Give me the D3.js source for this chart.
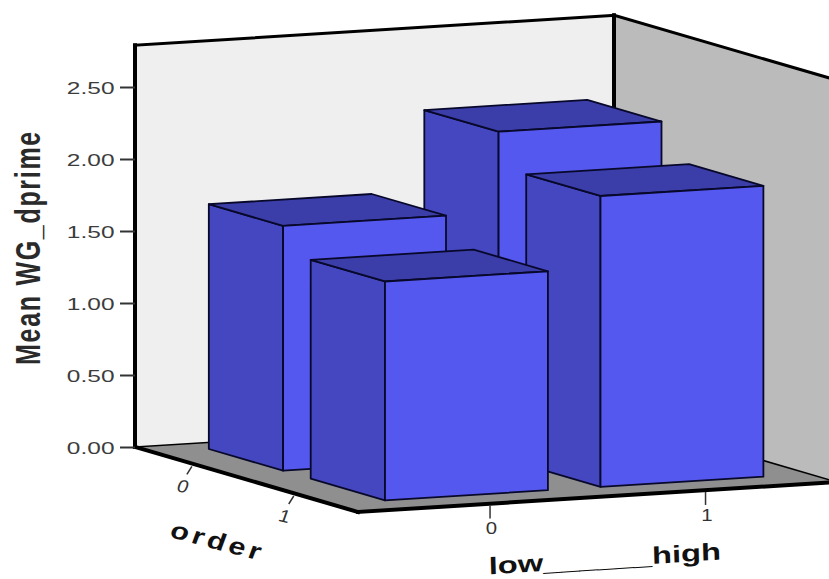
<!DOCTYPE html>
<html>
<head>
<meta charset="utf-8">
<script src="https://cdn.jsdelivr.net/npm/d3@7/dist/d3.min.js"></script>
<style>
html,body{margin:0;padding:0;background:#fff;overflow:hidden}
text{font-family:"Liberation Sans",Arial,sans-serif}
</style>
</head>
<body>
<svg id="chart" width="829" height="579"></svg>
<script>
// Categories and mean values of the 3-D bar chart
const levelCategories = [0, 1];
const orderCategories = [0, 1];
const order0Means = [1.70, 2.26];
const order1Means = [1.52, 2.02];
const valueTicks = [0, 0.5, 1, 1.5, 2, 2.5];
const valueTitle = "Mean WG_dprime";
const orderTitle = "order";
const levelTitle = "low______high";

// Oblique projection of the plot box: width, depth and height axes
const origin = [135, 447];
const widthVec = [479, -30];
const depthVec = [223, 65];
const boxTop = 2.79;

const yScale = d3.scaleLinear().domain([0, 2.5]).range([0, -360]);
const xBand = d3.scaleBand().domain(levelCategories).range([0.115, 0.905]).paddingInner(0.244);
const zBand = d3.scaleBand().domain(orderCategories).range([0.084, 0.874]).paddingInner(0.271);

function project(x, z, v) {
  return [
    origin[0] + x * widthVec[0] + z * depthVec[0],
    origin[1] + x * widthVec[1] + z * depthVec[1] + yScale(v)
  ];
}
const poly = pts => "M" + pts.map(p => p.join(",")).join("L") + "Z";

const svg = d3.select("#chart");

// Box walls and floor
const walls = svg.append("g");
walls.append("path").attr("d", poly([project(0,0,0), project(1,0,0), project(1,0,boxTop), project(0,0,boxTop)])).attr("fill", "#efefef");
walls.append("path").attr("d", poly([project(1,0,0), project(1,1,0), project(1,1,boxTop), project(1,0,boxTop)])).attr("fill", "#bbbbbb");
walls.append("path").attr("d", poly([project(0,0,0), project(1,0,0), project(1,1,0), project(0,1,0)])).attr("fill", "#8f8f8f");

const edge = (a, b, w) => walls.append("line")
  .attr("x1", a[0]).attr("y1", a[1]).attr("x2", b[0]).attr("y2", b[1])
  .attr("stroke", "#000").attr("stroke-width", w).attr("stroke-linecap", "square");
edge(project(0,0,0), project(1,0,0), 1.5);
edge(project(1,0,0), project(1,1,0), 1.5);
edge(project(0,0,0), project(0,0,boxTop), 4);
edge(project(0,0,boxTop), project(1,0,boxTop), 3);
edge(project(1,0,0), project(1,0,boxTop), 4);
edge(project(1,0,boxTop), project(1,1,boxTop), 3);
edge(project(0,0,0), project(0,1,0), 4);
edge(project(0,1,0), project(1,1,0), 4);

// Bars, painted from the back row forward and right to left inside a row
const rows = [
  { order: 0, means: order0Means },
  { order: 1, means: order1Means }
];
const bars = rows.flatMap(r => levelCategories.map((lvl, i) => ({ order: r.order, level: lvl, value: r.means[i] })).reverse());

const barG = svg.append("g").selectAll("g").data(bars).join("g")
  .attr("stroke", "#08082a").attr("stroke-width", 1.8).attr("stroke-linejoin", "round");

function corners(d) {
  const x0 = xBand(d.level), x1 = x0 + xBand.bandwidth();
  const z0 = zBand(d.order), z1 = z0 + zBand.bandwidth();
  return { x0, x1, z0, z1, v: d.value };
}
barG.append("path").attr("fill", "#4447c0").attr("d", d => {
  const c = corners(d);
  return poly([project(c.x0,c.z0,0), project(c.x0,c.z1,0), project(c.x0,c.z1,c.v), project(c.x0,c.z0,c.v)]);
});
barG.append("path").attr("fill", "#3b3da8").attr("d", d => {
  const c = corners(d);
  return poly([project(c.x0,c.z0,c.v), project(c.x1,c.z0,c.v), project(c.x1,c.z1,c.v), project(c.x0,c.z1,c.v)]);
});
barG.append("path").attr("fill", "#5558ee").attr("d", d => {
  const c = corners(d);
  return poly([project(c.x0,c.z1,0), project(c.x1,c.z1,0), project(c.x1,c.z1,c.v), project(c.x0,c.z1,c.v)]);
});

// Value axis on the left edge of the back wall
const yAxis = svg.append("g")
  .attr("transform", `translate(${origin[0]},${origin[1]})`)
  .call(d3.axisLeft(yScale).tickValues(valueTicks).tickFormat(d3.format(".2f")).tickSize(15).tickPadding(4));
yAxis.select(".domain").remove();
yAxis.selectAll(".tick line").attr("stroke", "#333").attr("stroke-width", 2);
yAxis.selectAll(".tick text")
  .attr("fill", "#3c3c3c").attr("font-size", 17).attr("text-anchor", "end")
  .attr("dy", "0.36em").attr("x", 0)
  .attr("transform", "translate(-20.5,0) scale(1.44,1)");

svg.append("text")
  .attr("transform", "translate(40,247.5) rotate(-90) scale(1,1.4)")
  .attr("text-anchor", "middle").attr("font-size", 25).attr("font-weight", "bold")
  .attr("letter-spacing", 1.7).attr("fill", "#2a2a2a")
  .text(valueTitle);

// Width axis ticks along the front edge of the floor
const xTicks = svg.append("g").selectAll("g").data(levelCategories).join("g")
  .attr("transform", d => {
    const p = project(xBand(d) + xBand.bandwidth() / 2, 1, 0);
    return `translate(${p[0] - 4.5},${p[1] + 2})`;
  });
xTicks.append("line").attr("y2", 13).attr("stroke", "#333").attr("stroke-width", 1.5);
xTicks.append("text").attr("transform", "translate(1.5,29) scale(1.2,1)").attr("text-anchor", "middle")
  .attr("font-size", 17).attr("fill", "#333").text(d => d);

// Depth axis ticks along the left edge of the floor
const zTicks = svg.append("g").selectAll("g").data(orderCategories).join("g")
  .attr("transform", d => {
    const p = project(0, zBand(d) + zBand.bandwidth() / 2, 0);
    return `translate(${p[0] + 1},${p[1] + 3})`;
  });
zTicks.append("line").attr("x2", -5).attr("y2", 8).attr("stroke", "#333").attr("stroke-width", 1.5);
zTicks.append("text").attr("transform", "matrix(1.15,0.25,-0.35,1,-11,26)").attr("text-anchor", "middle")
  .attr("font-size", 17).attr("fill", "#333").text(d => d);

// Axis titles
svg.append("text")
  .attr("transform", "matrix(1.22,0.32,-0.35,0.95,215,549)")
  .attr("text-anchor", "middle").attr("font-size", 24).attr("font-weight", "bold").attr("letter-spacing", 3).attr("fill", "#111")
  .text(orderTitle);
svg.append("text")
  .attr("transform", "matrix(1.36,-0.087,0.03,1,605,567)")
  .attr("text-anchor", "middle").attr("font-size", 24).attr("font-weight", "bold").attr("fill", "#111")
  .text(levelTitle);
</script>
</body>
</html>
